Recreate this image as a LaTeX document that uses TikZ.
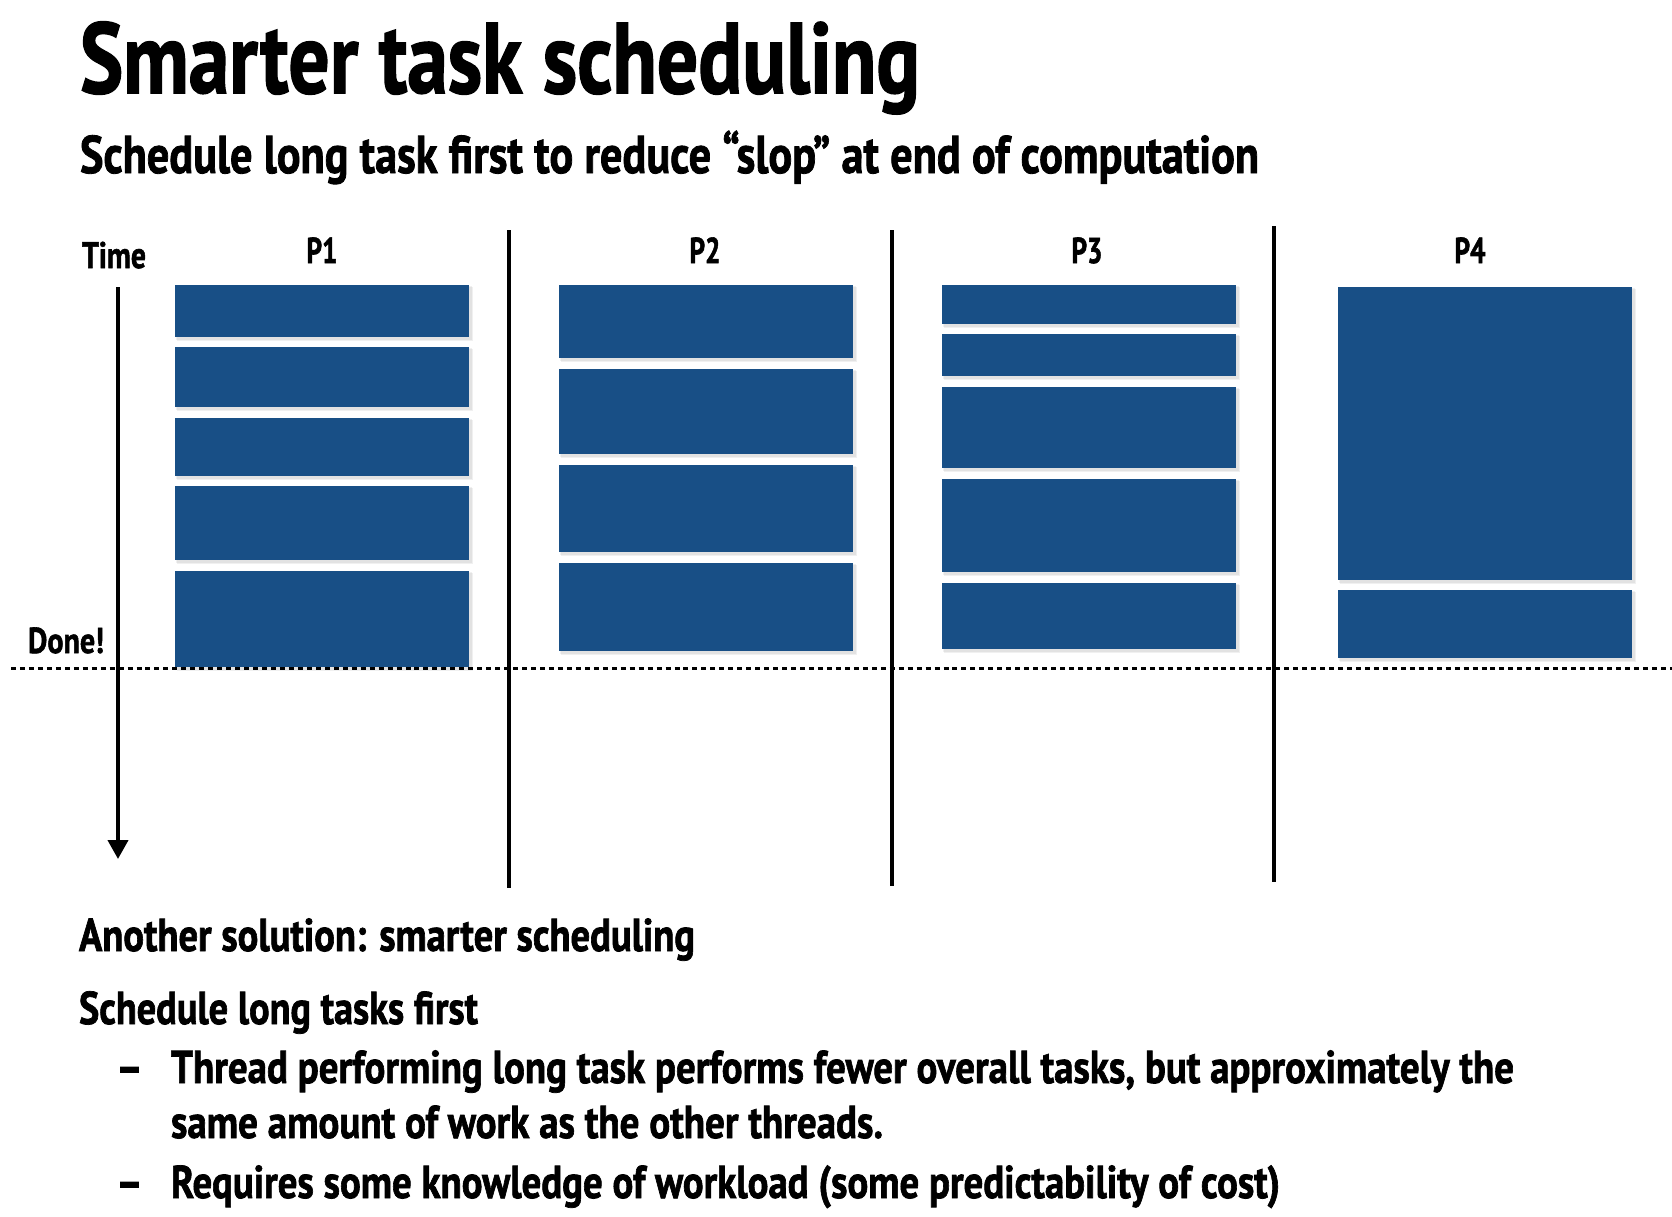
\documentclass[tikz,border=0pt]{standalone}
\usepackage{fontspec}
\setmainfont{PT Sans}[BoldFeatures={FakeBold=1.6}]
\usepackage{graphicx}
\usetikzlibrary{arrows.meta}
\definecolor{taskblue}{RGB}{24,79,134}
\newcommand{\fitw}[2]{\resizebox{#1}{\height}{#2}}
\newcommand{\tblk}[4]{%
  \fill[black,opacity=0.06] (#1+1.5,#2+1.5) rectangle (#3+4,#4+4);
  \fill[black,opacity=0.06] (#1+1,#2+1) rectangle (#3+2.5,#4+2.5);
  \fill[taskblue] (#1,#2) rectangle (#3,#4);}
\tikzset{
  txt/.style={inner sep=0pt, outer sep=0pt, anchor=base west, font=\bfseries},
  lbl/.style={inner sep=0pt, outer sep=0pt, anchor=base, font=\bfseries\fontsize{36bp}{40bp}\selectfont},
  divider/.style={line width=3.5pt},
  doneline/.style={line width=3pt, dash pattern=on 5pt off 4pt},
}
\begin{document}
\begin{tikzpicture}[x=1bp,y=-1bp]
\useasboundingbox (0,0) rectangle (1672,1216);
% title
\node[txt, font=\bfseries\fontsize{100bp}{110bp}\selectfont] (title) at (80,93) {\fitw{840bp}{Smarter task scheduling}};
\node[txt, font=\bfseries\fontsize{53bp}{60bp}\selectfont] (subtitle) at (80,173) {\fitw{1179bp}{Schedule long task first to reduce “slop” at end of computation}};
% labels
\node[txt, font=\bfseries\fontsize{37bp}{40bp}\selectfont] (time) at (82,268) {\fitw{64bp}{Time}};
\node[txt, font=\bfseries\fontsize{36bp}{40bp}\selectfont] (done) at (28,653) {\fitw{76bp}{Done!}};
\node[lbl] (p1) at (322,263) {\fitw{31bp}{P1}};
\node[lbl] (p2) at (705,263) {\fitw{31bp}{P2}};
\node[lbl] (p3) at (1087,263) {\fitw{31bp}{P3}};
\node[lbl] (p4) at (1470,263) {\fitw{31bp}{P4}};
% task blocks
\foreach \ya/\yb in {285/337,347/407,418/476,486/560,571/667} {\tblk{175}{\ya}{469}{\yb}}
\foreach \ya/\yb in {285/358,369/454,465/552,563/651} {\tblk{559}{\ya}{853}{\yb}}
\foreach \ya/\yb in {285/324,334/376,387/468,479/572,583/649} {\tblk{942}{\ya}{1236}{\yb}}
\foreach \ya/\yb in {287/580,590/658} {\tblk{1338}{\ya}{1632}{\yb}}
% done line
\coordinate (dl) at (11,668);
\coordinate (dr) at (1672,668);
\draw[doneline] (dl) -- (dr);
% dividers
\coordinate (d1t) at (509,230); \coordinate (d1b) at (509,888);
\coordinate (d2t) at (892,230); \coordinate (d2b) at (892,886);
\coordinate (d3t) at (1274,226); \coordinate (d3b) at (1274,882);
\draw[divider] (d1t) -- (d1b);
\draw[divider] (d2t) -- (d2b);
\draw[divider] (d3t) -- (d3b);
% time arrow
\coordinate (ta) at (118,287);
\coordinate (tb) at (118,859);
\draw[line width=4pt, -{Triangle[width=20pt,length=19pt]}] (ta) -- (tb);
% bottom text
\node[txt, font=\bfseries\fontsize{46bp}{50bp}\selectfont] (another) at (79,951) {\fitw{616bp}{Another solution: smarter scheduling}};
\node[txt, font=\bfseries\fontsize{46bp}{50bp}\selectfont] (longfirst) at (79,1024) {\fitw{399bp}{Schedule long tasks first}};
\node[txt, font=\bfseries\fontsize{46bp}{50bp}\selectfont] (dash1) at (116,1083) {\fitw{27bp}{–}};
\node[txt, font=\bfseries\fontsize{46bp}{50bp}\selectfont] (thread) at (171,1083) {\fitw{1343bp}{Thread performing long task performs fewer overall tasks, but approximately the}};
\node[txt, font=\bfseries\fontsize{46bp}{50bp}\selectfont] (same) at (171,1138) {\fitw{712bp}{same amount of work as the other threads.}};
\node[txt, font=\bfseries\fontsize{46bp}{50bp}\selectfont] (dash2) at (116,1198) {\fitw{27bp}{–}};
\node[txt, font=\bfseries\fontsize{46bp}{50bp}\selectfont] (requires) at (171,1198) {\fitw{1109bp}{Requires some knowledge of workload (some predictability of cost)}};
\end{tikzpicture}
\end{document}
